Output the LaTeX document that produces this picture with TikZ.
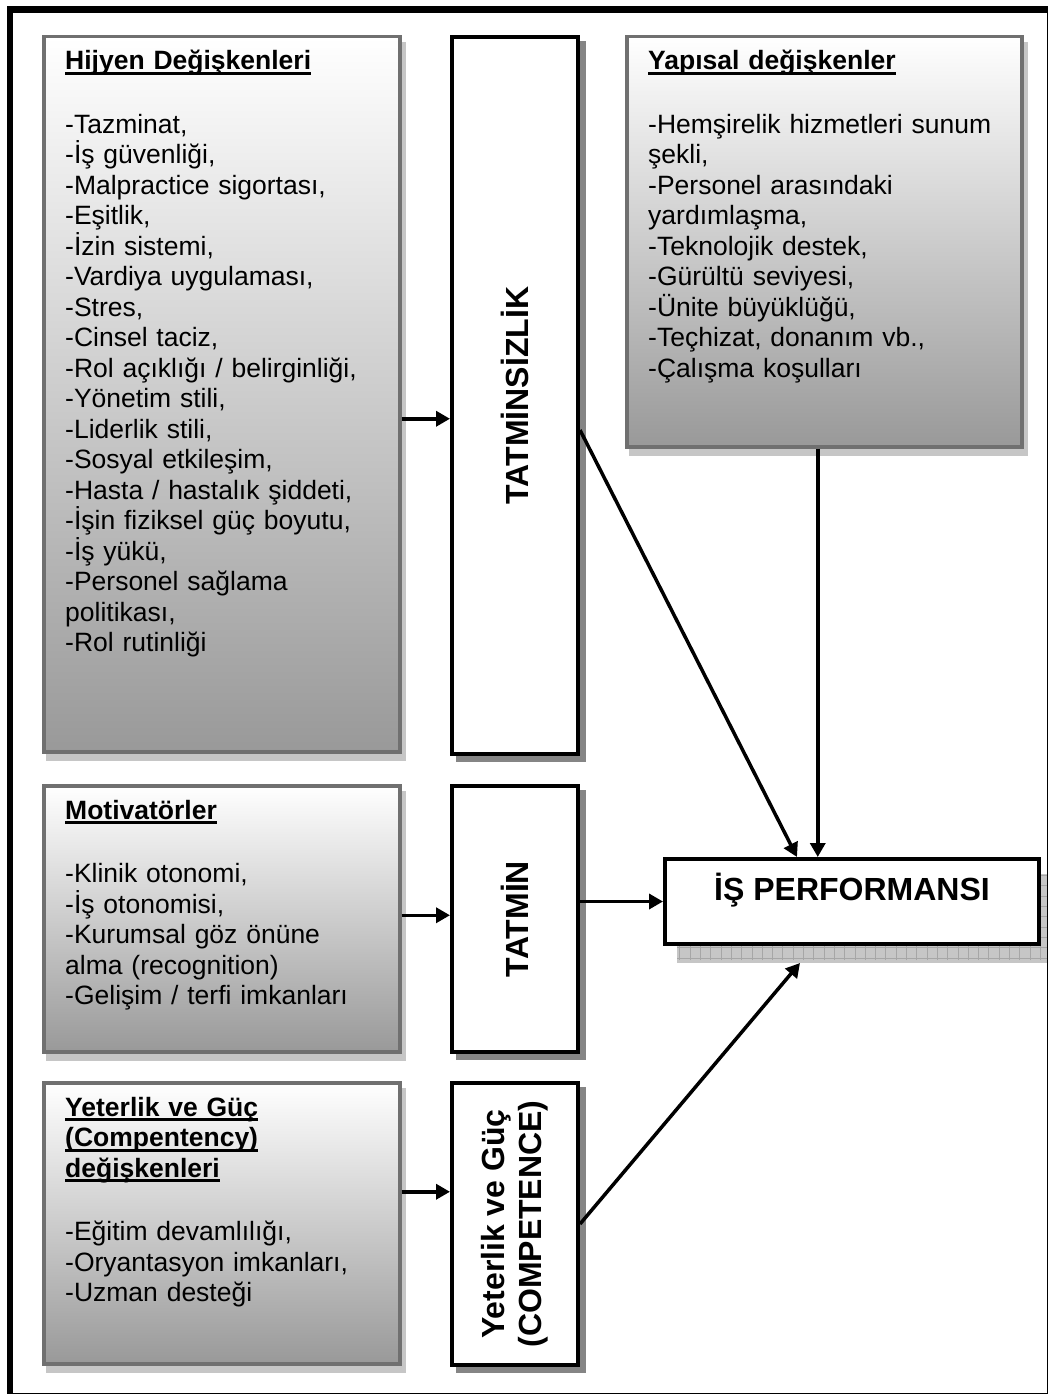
\documentclass[tikz,border=0pt]{standalone}
\usepackage{fontspec}
\setmainfont{Liberation Sans}
\usetikzlibrary{arrows.meta}

\definecolor{boxedge}{HTML}{707070}
\definecolor{boxbottom}{HTML}{999999}
\definecolor{solidshadow}{HTML}{858585}
\definecolor{hatchfill}{HTML}{C6C6C6}
\definecolor{hatchline}{HTML}{A6A6A6}

\newcommand\bodysize{\fontsize{26.5}{30.5}\selectfont}
\newcommand\titlesize{\fontsize{32}{37}\selectfont\bfseries}
% underline drawn as a rule of its own, thick and a little below the baseline
\newcommand\hdul[1]{\leavevmode\setbox0=\hbox{#1}\rlap{\rule[-5pt]{\wd0}{2.6pt}}\box0}

\pgfdeclarelayer{bg}
\pgfsetlayers{bg,main}

\tikzset{
  gbox/.style={draw=boxedge, line width=3.5pt, top color=white, bottom color=boxbottom,
    rectangle, inner sep=0pt, anchor=north west},
  wbox/.style={draw=black, line width=4pt, fill=white, rectangle, inner sep=0pt, anchor=north west},
  body/.style={anchor=base west, inner sep=0pt, align=left, text width=#1, font=\bodysize},
  title/.style={inner sep=0pt, font=\titlesize, align=center},
  arr/.style={line width=3.5pt, -{Triangle[length=14pt,width=15pt]}},
  hatchshadow/.style={fill=hatchfill},
  solidshadowstyle/.style={fill=solidshadow},
}

\begin{document}
\begin{tikzpicture}[x=1pt,y=1pt]
\useasboundingbox (0,0) rectangle (1048,-1394);

% outer frame
\draw[line width=6.5pt] (9.75,-9.75) rectangle (1050,-1396);

% left column: gradient boxes
\node[gbox, minimum width=356pt, minimum height=715pt] (hij) at (42,-35) {};
\node[gbox, minimum width=356pt, minimum height=266pt] (mot) at (42,-784) {};
\node[gbox, minimum width=356pt, minimum height=281pt] (yet) at (42,-1081) {};

% middle column: white boxes
\node[wbox, minimum width=126pt, minimum height=717pt] (tz) at (450,-35) {};
\node[wbox, minimum width=126pt, minimum height=266pt] (tm) at (450,-784) {};
\node[wbox, minimum width=126pt, minimum height=282pt] (comp) at (450,-1081) {};

% right column
\node[gbox, minimum width=395pt, minimum height=410pt] (yap) at (625,-35) {};
\node[wbox, minimum width=374pt, minimum height=85pt] (perf) at (663,-857) {};

% shadows
\begin{pgfonlayer}{bg}
  \foreach \b in {hij,mot,yet,yap}{
    \fill[hatchshadow] ([shift={(4pt,-7pt)}]\b.north west) rectangle ([shift={(4pt,-7pt)}]\b.south east);
  }
  \foreach \b in {tz,tm,comp}{
    \fill[solidshadowstyle] ([shift={(6pt,-6pt)}]\b.north west) rectangle ([shift={(6pt,-6pt)}]\b.south east);
  }
  \fill[hatchshadow] ([shift={(14pt,-17pt)}]perf.north west) rectangle ([shift={(14pt,-17pt)}]perf.south east);
  \begin{scope}
    \clip ([shift={(14pt,-17pt)}]perf.north west) rectangle ([shift={(14pt,-17pt)}]perf.south east);
    \draw[hatchline, line width=0.8pt, step=10.3pt] (660,-960) grid (1060,-860);
  \end{scope}
\end{pgfonlayer}

% texts
\node[body=330pt] (hijtxt) at (65,-70) {\hdul{\bfseries Hijyen Değişkenleri}\\[33pt]
  -Tazminat,\\ -İş güvenliği,\\ -Malpractice sigortası,\\ -Eşitlik,\\ -İzin sistemi,\\
  -Vardiya uygulaması,\\ -Stres,\\ -Cinsel taciz,\\ -Rol açıklığı / belirginliği,\\
  -Yönetim stili,\\ -Liderlik stili,\\ -Sosyal etkileşim,\\ -Hasta / hastalık şiddeti,\\
  -İşin fiziksel güç boyutu,\\ -İş yükü,\\ -Personel sağlama\\ politikası,\\ -Rol rutinliği};

\node[body=360pt] (yaptxt) at (648,-70) {\hdul{\bfseries Yapısal değişkenler}\\[33pt]
  -Hemşirelik hizmetleri sunum\\ şekli,\\ -Personel arasındaki\\ yardımlaşma,\\
  -Teknolojik destek,\\ -Gürültü seviyesi,\\ -Ünite büyüklüğü,\\ -Teçhizat, donanım vb.,\\
  -Çalışma koşulları};

\node[body=330pt] (mottxt) at (65,-819) {\hdul{\bfseries Motivatörler}\\[33pt]
  -Klinik otonomi,\\ -İş otonomisi,\\ -Kurumsal göz önüne\\ alma (recognition)\\
  -Gelişim / terfi imkanları};

\node[body=330pt] (yettxt) at (65,-1116) {\hdul{\bfseries Yeterlik ve Güç}\\
  \hdul{\bfseries (Compentency)}\\ \hdul{\bfseries değişkenleri}\\[33pt]
  -Eğitim devamlılığı,\\ -Oryantasyon imkanları,\\ -Uzman desteği};

\node[title, rotate=90] (tztxt) at (tz.center) {TATMİNSİZLİK};
\node[title, rotate=90] (tmtxt) at (tm.center) {TATMİN};
\node[title, rotate=90] (comptxt) at (comp.center) {Yeterlik ve Güç\\(COMPETENCE)};
\node[title, anchor=base] (perftxt) at ([yshift=-43pt]perf.north) {İŞ PERFORMANSI};

% connectors
\draw[arr] ([yshift=-24.5pt]hij.east) -- ([yshift=-24.5pt]hij.east -| tz.west);
\draw[arr] ([yshift=3.5pt]mot.east) -- ([yshift=3.5pt]mot.east -| tm.west);
\draw[arr] ([yshift=31.5pt]yet.east) -- ([yshift=31.5pt]yet.east -| comp.west);
\draw[arr] ([yshift=-34.5pt]tz.east) -- ([xshift=-55pt]perf.north);
\draw[arr] ([xshift=-6.5pt]yap.south) -- ([xshift=-6.5pt]yap.south |- perf.north);
\draw[arr] (tm.east |- perf.west) -- (perf.west);
\draw[arr] (comp.east) -- ([shift={(-52pt,-17pt)}]perf.south);
\end{tikzpicture}
\end{document}
